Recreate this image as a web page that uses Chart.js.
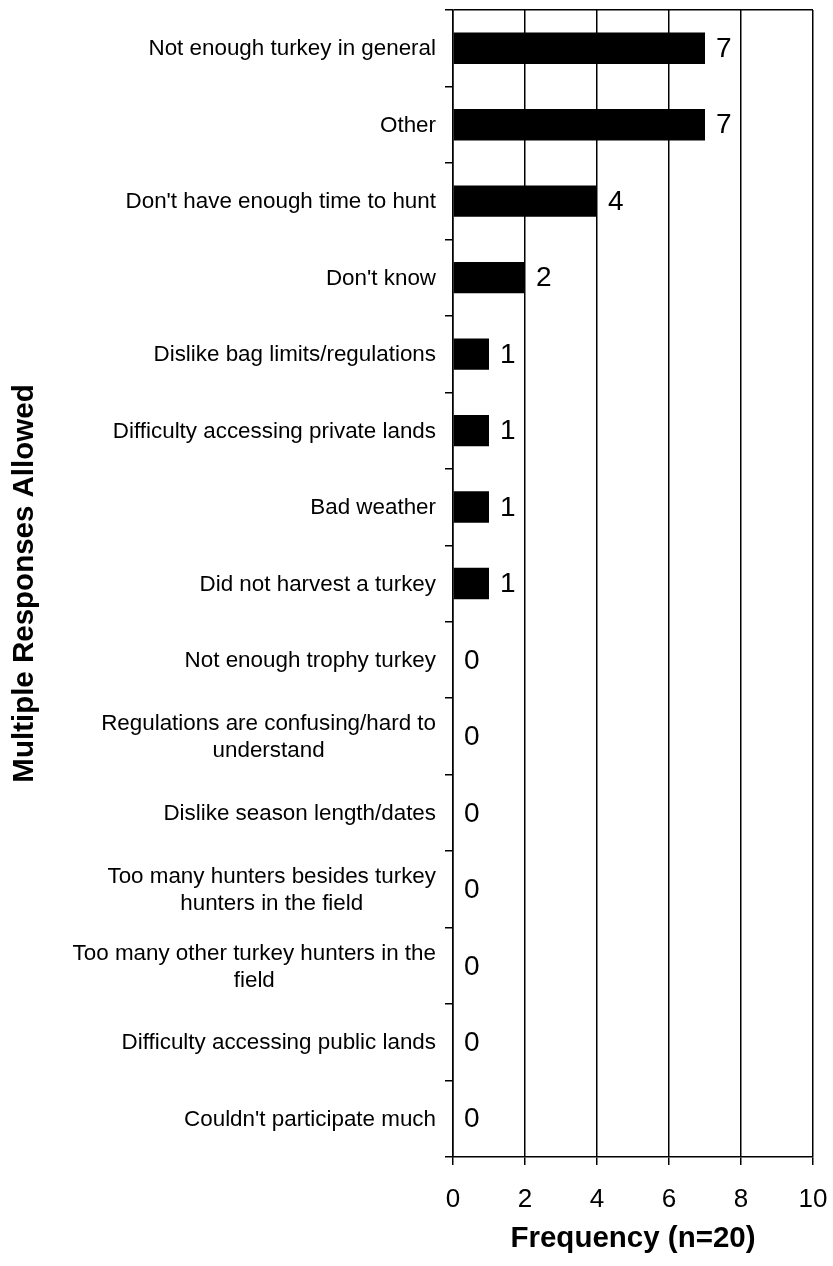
<!DOCTYPE html>
<html>
<head>
<meta charset="utf-8">
<script src="https://cdn.jsdelivr.net/npm/chart.js@4"></script>
<style>
  html, body { margin: 0; padding: 0; background: #fff; }
  #wrap { width: 833px; height: 1266px; position: relative; }
</style>
</head>
<body>
<div id="wrap"><canvas id="c"></canvas></div>
<script>
const categories = [
  ["Not enough turkey in general"],
  ["Other"],
  ["Don't have enough time to hunt"],
  ["Don't know"],
  ["Dislike bag limits/regulations"],
  ["Difficulty accessing private lands"],
  ["Bad weather"],
  ["Did not harvest a turkey"],
  ["Not enough trophy turkey"],
  ["Regulations are confusing/hard to", "understand"],
  ["Dislike season length/dates"],
  ["Too many hunters besides turkey", "hunters in the field"],
  ["Too many other turkey hunters in the", "field"],
  ["Difficulty accessing public lands"],
  ["Couldn't participate much"]
];
const frequency = [7, 7, 4, 2, 1, 1, 1, 1, 0, 0, 0, 0, 0, 0, 0];
const xTicks = [0, 2, 4, 6, 8, 10];
const xTitle = "Frequency (n=20)";
const yTitle = "Multiple Responses Allowed";

const FONT = "'Liberation Sans', Arial, Helvetica, sans-serif";

const labelPlugin = {
  id: 'labelPlugin',
  afterDraw(chart) {
    const ctx = chart.ctx;
    const y = chart.scales.y;
    const x = chart.scales.x;
    ctx.save();
    // category labels
    ctx.font = "22.4px " + FONT;
    ctx.fillStyle = "#000";
    ctx.textBaseline = "middle";
    ctx.textAlign = "center";
    const rightEdge = chart.chartArea.left - 17;
    const lh = 27;
    categories.forEach((lines, i) => {
      const cy = y.getPixelForValue(i) + 1;
      const widths = lines.map(l => ctx.measureText(l).width);
      const bw = Math.max(...widths);
      const cx = rightEdge - bw / 2;
      const n = lines.length;
      lines.forEach((l, k) => {
        ctx.fillText(l, cx, cy + (k - (n - 1) / 2) * lh);
      });
    });
    // value labels
    ctx.font = "28px " + FONT;
    ctx.textAlign = "left";
    frequency.forEach((v, i) => {
      const px = x.getPixelForValue(v) + 11;
      const py = y.getPixelForValue(i) + 1;
      ctx.fillText(String(v), px, py);
    });
    ctx.restore();
  }
};

new Chart(document.getElementById('c'), {
  type: 'bar',
  data: {
    labels: categories,
    datasets: [{
      data: frequency,
      backgroundColor: '#000',
      borderWidth: 0,
      barPercentage: 0.41,
      categoryPercentage: 1.0
    }]
  },
  options: {
    indexAxis: 'y',
    responsive: true,
    maintainAspectRatio: false,
    animation: false,
    layout: { padding: { top: 10, right: 20, left: 0, bottom: 0 } },
    plugins: {
      legend: { display: false },
      tooltip: { enabled: false }
    },
    scales: {
      x: {
        type: 'linear',
        min: 0,
        max: 10,
        afterBuildTicks: (scale) => { scale.ticks = xTicks.map(v => ({ value: v })); },
        ticks: {
          color: '#000',
          font: { family: FONT, size: 26 },
          padding: 19,
          maxRotation: 0
        },
        grid: {
          color: '#000',
          lineWidth: 1.5,
          drawTicks: true,
          tickLength: 8,
          tickColor: '#000'
        },
        border: { display: true, color: '#000', width: 1.5 },
        title: {
          display: true,
          text: xTitle,
          color: '#000',
          font: { family: FONT, size: 29.5, weight: 'bold' },
          padding: { top: 0, bottom: 9 }
        },
        afterFit: (scale) => {
          scale.height = 109;
          scale.paddingLeft = 0;
          scale.paddingRight = 0;
        }
      },
      y: {
        type: 'category',
        offset: true,
        ticks: { display: false },
        grid: {
          offset: true,
          drawOnChartArea: true,
          color: (ctx) => (ctx.index === 0 ? '#000' : 'rgba(0,0,0,0)'),
          tickColor: '#000',
          drawTicks: true,
          tickLength: 8,
          lineWidth: 1.5
        },
        border: { display: true, color: '#000', width: 1.5 },
        title: {
          display: true,
          text: yTitle,
          color: '#000',
          font: { family: FONT, size: 29.5, weight: 'bold' },
          padding: { top: 7, bottom: 0 }
        },
        afterFit: (scale) => {
          scale.width = 453;
          scale.paddingTop = 0;
          scale.paddingBottom = 0;
        }
      }
    }
  },
  plugins: [labelPlugin]
});
</script>
</body>
</html>
